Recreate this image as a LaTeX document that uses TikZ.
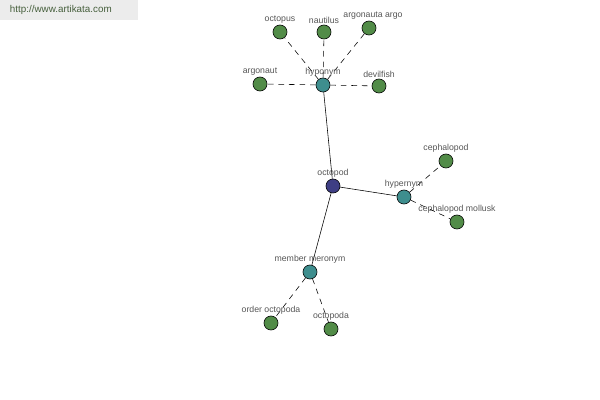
\documentclass[tikz,border=0pt]{standalone}
\usepackage{fontspec}
\setmainfont{Liberation Sans}
\usetikzlibrary{positioning}
\definecolor{leafgreen}{RGB}{82,140,72}
\definecolor{hubteal}{RGB}{62,142,142}
\definecolor{rootblue}{RGB}{62,62,132}
\definecolor{labelgray}{RGB}{85,85,85}
\definecolor{bargray}{RGB}{236,236,236}
\definecolor{urlgreen}{RGB}{70,95,60}
\tikzset{
  leaf/.style={circle, draw, fill=leafgreen, minimum size=10pt, inner sep=0pt},
  hub/.style={circle, draw, fill=hubteal, minimum size=10pt, inner sep=0pt},
  root/.style={circle, draw, fill=rootblue, minimum size=10pt, inner sep=0pt},
  lbl/.style={text=labelgray, font=\fontsize{6.2}{7.2}\selectfont, inner sep=0.5pt},
  link/.style={dash pattern=on 4pt off 3.5pt},
}
\begin{document}
\begin{tikzpicture}[x=0.025cm, y=-0.025cm]
				\useasboundingbox (0,0) rectangle (600,400);
				\fill[bargray] (0,0) rectangle (138,20);
				\node[text=urlgreen, font=\fontsize{7}{8}\selectfont, anchor=west] (url) at (5,10) {http://www.artikata.com};

				\node[root] (O) at (333,186) {};
				\node[hub] (H) at (323,85) {};
				\node[hub] (P) at (404,197) {};
				\node[hub] (M) at (310,272) {};
				\node[leaf] (A) at (280,32) {};
				\node[leaf] (B) at (324,32) {};
				\node[leaf] (C) at (369,28) {};
				\node[leaf] (D) at (260,84) {};
				\node[leaf] (E) at (379,86) {};
				\node[leaf] (F) at (446,161) {};
				\node[leaf] (G) at (457,222) {};
				\node[leaf] (I) at (271,323) {};
				\node[leaf] (J) at (331,329) {};

				\draw (O) -- (H);
				\draw (O) -- (P);
				\draw (O) -- (M);
				\draw[link] (H) -- (A);
				\draw[link] (H) -- (B);
				\draw[link] (H) -- (C);
				\draw[link] (H) -- (D);
				\draw[link] (H) -- (E);
				\draw[link] (P) -- (F);
				\draw[link] (P) -- (G);
				\draw[link] (M) -- (I);
				\draw[link] (M) -- (J);

				\node [lbl, above=0cm of O] (lO) {octopod};
				\node [lbl, above=0cm of H] (lH) {hyponym};
				\node [lbl, above=0cm of P] (lP) {hypernym};
				\node [lbl, above=0cm of M] (lM) {member meronym};
				\node [lbl, above=0cm of A] (lA) {octopus};
				\node [lbl, above=0cm of B] (lB) {nautilus};
				\node [lbl, above=0cm of C, xshift=0.1cm] (lC) {argonauta argo};
				\node [lbl, above=0cm of D] (lD) {argonaut};
				\node [lbl, above=0cm of E] (lE) {devilfish};
				\node [lbl, above=0cm of F] (lF) {cephalopod};
				\node [lbl, above=0cm of G] (lG) {cephalopod mollusk};
				\node [lbl, above=0cm of I] (lI) {order octopoda};
				\node [lbl, above=0cm of J] (lJ) {octopoda};
			\end{tikzpicture}
\end{document}
